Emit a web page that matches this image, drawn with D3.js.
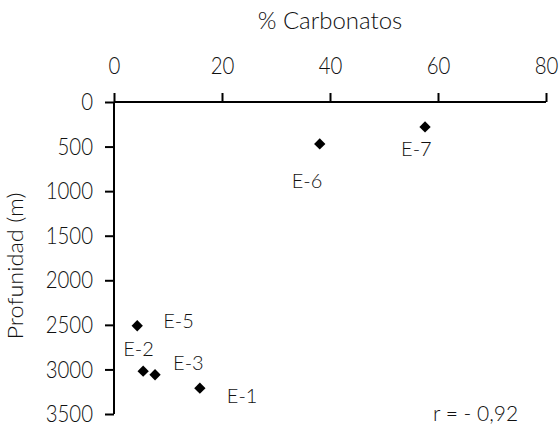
<!DOCTYPE html>
<html>
<head>
<meta charset="utf-8">
<script src="https://cdn.jsdelivr.net/npm/d3@7"></script>
<style>
  html, body { margin: 0; padding: 0; background: #fff; }
  svg { display: block; }
  text { font-family: "Lato", "Open Sans", sans-serif; fill: #111; }
</style>
</head>
<body>
<svg id="chart" width="560" height="428"></svg>
<script>
// Sample stations
const stations = ["E-1", "E-2", "E-3", "E-5", "E-6", "E-7"];
// Carbonate content (%)
const carbonates = [15.9, 5.4, 7.6, 4.3, 38.1, 57.6];
// Depth (m)
const depths = [3210, 3020, 3060, 2510, 470, 280];
// Label offsets per station (dx, dy in px from the marker)
const labelDx = [27, -20, 18, 26, -28, -24];
const labelDy = [15, -15, -5, 2, 44, 29];
const xTicks = [0, 20, 40, 60, 80];
const yTicks = [0, 500, 1000, 1500, 2000, 2500, 3000, 3500];
const correlation = "r = - 0,92";

const svg = d3.select("#chart");
const x = d3.scaleLinear().domain([0, 80]).range([114, 546]);
const y = d3.scaleLinear().domain([0, 3500]).range([102, 414]);
const fmt = d3.format("d");

// Top x axis
const xAxis = d3.axisTop(x).tickValues(xTicks).tickFormat(fmt).tickSize(9).tickPadding(19);
const gx = svg.append("g").attr("transform", `translate(0,${y(0)})`).call(xAxis);
gx.select(".domain").attr("d", `M${x(0)},0H${x(80)}`).attr("stroke", "#000").attr("stroke-width", 2);
gx.selectAll(".tick line").attr("stroke", "#000").attr("stroke-width", 2);
gx.selectAll(".tick text")
  .style("font-size", "24px").style("font-weight", "300").attr("fill", "#111")
  .attr("y", 0).attr("dy", 0)
  .attr("transform", "translate(0,-28) scale(0.85,1)");

// Left y axis (depth grows downward)
const yAxis = d3.axisLeft(y).tickValues(yTicks).tickFormat(fmt).tickSize(9).tickPadding(12);
const gy = svg.append("g").attr("transform", `translate(${x(0)},0)`).call(yAxis);
gy.select(".domain").attr("d", `M0,${y(0)}V${y(3500)}`).attr("stroke", "#000").attr("stroke-width", 2);
gy.selectAll(".tick line").attr("stroke", "#000").attr("stroke-width", 2);
gy.selectAll(".tick text")
  .style("font-size", "24px").style("font-weight", "300").attr("fill", "#111")
  .attr("x", 0)
  .attr("transform", "translate(-21,0) scale(0.85,1)");

// Axis titles
svg.append("text")
  .attr("x", (x(0) + x(80)) / 2).attr("y", 29)
  .attr("text-anchor", "middle").style("font-size", "24px").style("font-weight", "300")
  .text("% Carbonatos");
svg.append("text")
  .attr("transform", `translate(23,${(y(0) + y(3500)) / 2 + 8}) rotate(-90) scale(1.12,1)`)
  .attr("text-anchor", "middle").style("font-size", "21px").style("font-weight", "300")
  .text("Profunidad (m)");

// Diamond markers
const symbol = d3.symbol().type(d3.symbolSquare).size(64);
const pts = stations.map((s, i) => ({ s, c: carbonates[i], d: depths[i], i }));
svg.append("g").selectAll("path")
  .data(pts)
  .join("path")
  .attr("d", symbol)
  .attr("transform", d => `translate(${x(d.c)},${y(d.d)}) rotate(45)`)
  .attr("fill", "#000");

// Station labels
svg.append("g").selectAll("text")
  .data(pts)
  .join("text")
  .attr("x", d => x(d.c) + labelDx[d.i])
  .attr("y", d => y(d.d) + labelDy[d.i])
  .attr("text-anchor", "start")
  .style("font-size", "20px").style("font-weight", "300")
  .text(d => d.s);

// Correlation coefficient
svg.append("text")
  .attr("x", 433).attr("y", 421)
  .style("font-size", "21px").style("font-weight", "300")
  .text(correlation);
</script>
</body>
</html>
